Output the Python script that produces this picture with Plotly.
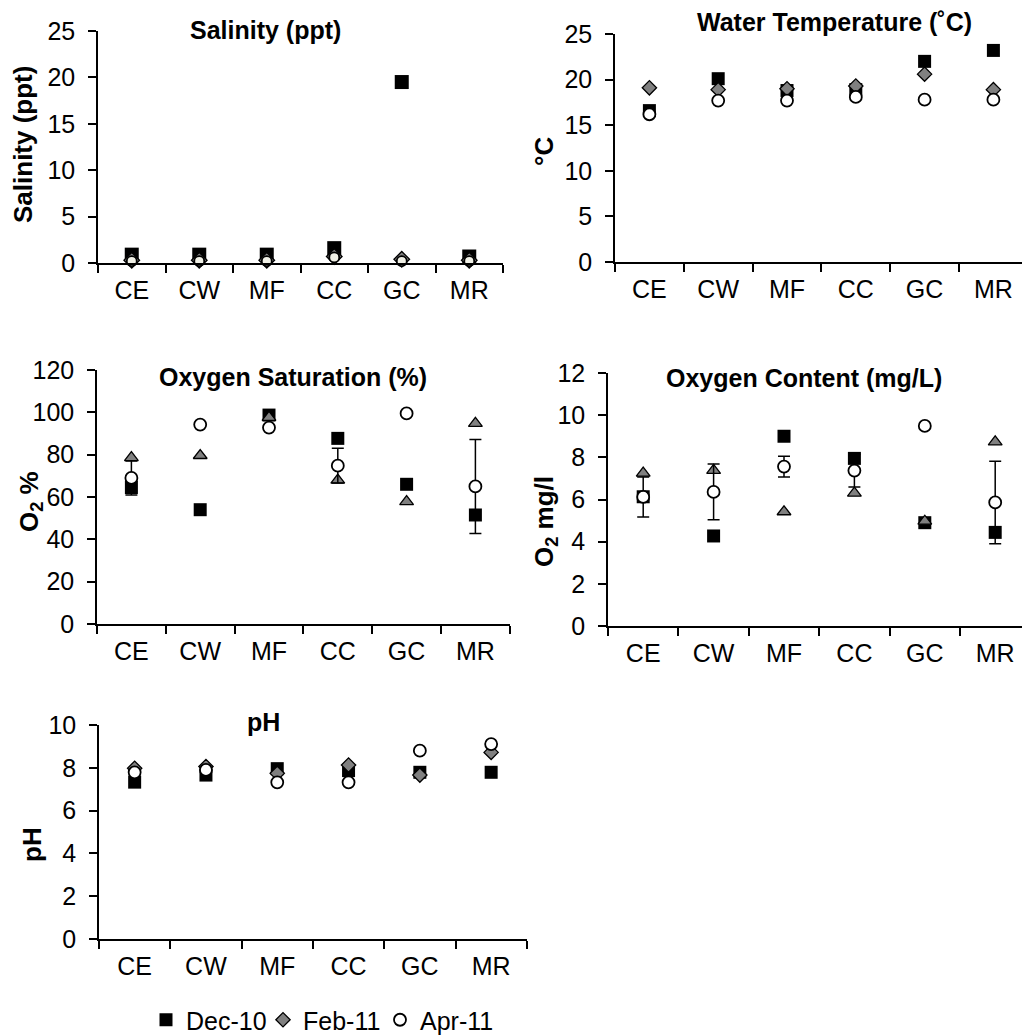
import plotly.graph_objects as go

W, H = 1022, 1035
FONT = "Arial, 'Liberation Sans', sans-serif"

sites = ["CE", "CW", "MF", "CC", "GC", "MR"]
seasons = ["Dec-10", "Feb-11", "Apr-11"]

# Salinity (ppt)
sal_dec = [0.9, 0.9, 0.9, 1.6, 19.5, 0.7]
sal_feb = [0.3, 0.3, 0.3, 0.7, 0.4, 0.3]
sal_apr = [0.2, 0.2, 0.2, 0.6, 0.2, 0.2]

# Water temperature (°C)
temp_dec = [16.6, 20.1, 18.8, 18.9, 22.0, 23.2]
temp_feb = [19.1, 18.9, 19.0, 19.3, 20.6, 18.9]
temp_apr = [16.2, 17.7, 17.7, 18.1, 17.8, 17.8]

# Oxygen saturation (%)
osat_dec = [64.5, 54.0, 98.7, 87.7, 66.0, 51.5]
osat_feb = [78.6, 79.6, 97.6, 68.0, 57.8, 94.8]
osat_apr = [69.0, 94.2, 92.8, 74.8, 99.5, 65.0]
osat_apr_err = [8.0, None, None, 8.2, None, 22.2]

# Oxygen content (mg/L)
ocon_dec = [6.13, 4.27, 9.0, 7.95, 4.9, 4.44]
ocon_feb = [7.25, 7.38, 5.42, 6.3, 4.97, 8.73]
ocon_apr = [6.12, 6.36, 7.56, 7.37, 9.49, 5.86]
ocon_apr_err = [0.95, 1.32, 0.49, 0.78, None, 1.96]

# pH
ph_dec = [7.33, 7.66, 7.96, 7.87, 7.79, 7.79]
ph_feb = [7.98, 8.06, 7.74, 8.13, 7.66, 8.72]
ph_apr = [7.79, 7.90, 7.32, 7.32, 8.80, 9.11]


def px(x):
    return x / W


def py(y):
    return 1 - y / H


# Panel frames in pixels: (left, right, top, bottom), y max, y step, category width
panels = [
    dict(key="", box=(98, 503, 31, 263), ymax=25, dtick=5, cw=67.5,
         title="Salinity (ppt)", tpos=(265, 30), ytitle="Salinity (ppt)", ypos=(23, 145),
         data=(sal_dec, sal_feb, sal_apr), err=None, feb_sym="diamond", sal=True),
    dict(key="2", box=(615, 1022, 34, 262), ymax=25, dtick=5, cw=68.8,
         title="Water Temperature (˚C)", tpos=(834, 22), ytitle="°C", ypos=(544, 152),
         data=(temp_dec, temp_feb, temp_apr), err=None, feb_sym="diamond", sal=False),
    dict(key="3", box=(97, 510, 370, 624), ymax=120, dtick=20, cw=68.8,
         title="Oxygen Saturation (%)", tpos=(293, 377), ytitle="O<sub>2</sub> %", ypos=(30, 502),
         data=(osat_dec, osat_feb, osat_apr), err=osat_apr_err, feb_sym="triangle-up", sal=False),
    dict(key="4", box=(608, 1022, 373, 626), ymax=12, dtick=2, cw=70.4,
         title="Oxygen Content (mg/L)", tpos=(804, 378), ytitle="O<sub>2</sub> mg/l", ypos=(545, 522),
         data=(ocon_dec, ocon_feb, ocon_apr), err=ocon_apr_err, feb_sym="triangle-up", sal=False),
    dict(key="5", box=(99, 527, 725, 939), ymax=10, dtick=2, cw=71.3,
         title="pH", tpos=(263, 722), ytitle="pH", ypos=(32, 845),
         data=(ph_dec, ph_feb, ph_apr), err=None, feb_sym="diamond", sal=False),
]

fig = go.Figure()
layout = dict(
    width=W, height=H,
    margin=dict(l=0, r=0, t=0, b=0, autoexpand=False),
    paper_bgcolor="white", plot_bgcolor="white",
    font=dict(family=FONT, size=25, color="black"),
    annotations=[],
)

for p in panels:
    k = p["key"]
    x0, x1, yt, yb = p["box"]
    xr_end = -0.5 + (x1 - x0) / p["cw"]
    axis_common = dict(
        showline=True, linecolor="black", linewidth=1.5,
        ticks="outside", ticklen=8, tickwidth=1.5, tickcolor="black",
        showgrid=False, zeroline=False, automargin=False,
        tickfont=dict(family=FONT, size=25, color="black"),
    )
    layout["xaxis" + k] = dict(
        axis_common, domain=[px(x0), px(x1)], anchor="y" + k,
        type="category", categoryorder="array", categoryarray=sites,
        range=[-0.5, xr_end], tickson="boundaries", ticklabelstandoff=4,
    )
    layout["yaxis" + k] = dict(
        axis_common, domain=[py(yb), py(yt)], anchor="x" + k,
        range=[0, p["ymax"]], dtick=p["dtick"], tick0=0, ticklabelstandoff=8,
    )
    layout["annotations"].append(dict(
        text="<b>%s</b>" % p["title"], x=px(p["tpos"][0]), y=py(p["tpos"][1]),
        xref="paper", yref="paper", showarrow=False, xanchor="center", yanchor="middle",
        font=dict(family=FONT, size=25, color="black"),
    ))
    layout["annotations"].append(dict(
        text="<b>%s</b>" % p["ytitle"], x=px(p["ypos"][0]), y=py(p["ypos"][1]),
        xref="paper", yref="paper", showarrow=False, xanchor="center", yanchor="middle",
        textangle=-90, font=dict(family=FONT, size=26, color="black"),
    ))

    dec, feb, apr = p["data"]
    show = k == "5"
    sq_size = 14 if p["sal"] else 13
    circ_fill = "#F0F0E6" if p["sal"] else "white"
    circ_size = 10 if p["sal"] else 12
    feb_size = 12 if p["feb_sym"] == "triangle-up" else (12 if p["sal"] else 11)
    fig.add_trace(go.Scatter(
        x=sites, y=dec, mode="markers", name=seasons[0], legendgroup="dec", showlegend=show,
        xaxis="x" + k, yaxis="y" + k, cliponaxis=False,
        marker=dict(symbol="square", size=sq_size, color="black", line=dict(width=0)),
    ))
    fig.add_trace(go.Scatter(
        x=sites, y=feb, mode="markers", name=seasons[1], legendgroup="feb", showlegend=show,
        xaxis="x" + k, yaxis="y" + k, cliponaxis=False,
        marker=dict(symbol=p["feb_sym"], size=feb_size, color="#808080",
                    line=dict(width=1.3, color="black")),
    ))
    apr_kw = {}
    if p["err"] is not None:
        apr_kw["error_y"] = dict(type="data", array=p["err"], visible=True,
                                 color="black", thickness=1.5, width=6)
    fig.add_trace(go.Scatter(
        x=sites, y=apr, mode="markers", name=seasons[2], legendgroup="apr", showlegend=show,
        xaxis="x" + k, yaxis="y" + k, cliponaxis=False,
        marker=dict(symbol="circle", size=circ_size, color=circ_fill,
                    line=dict(width=1.8, color="black")),
        **apr_kw,
    ))

layout["legend"] = dict(
    orientation="h", x=px(146), y=py(1020), xanchor="left", yanchor="middle",
    font=dict(family=FONT, size=25, color="black"),
    itemwidth=30, tracegroupgap=0, bgcolor="rgba(0,0,0,0)",
    entrywidth=72, entrywidthmode="pixels",
)
layout["showlegend"] = True
fig.update_layout(**layout)

fig.write_html("out.html")
